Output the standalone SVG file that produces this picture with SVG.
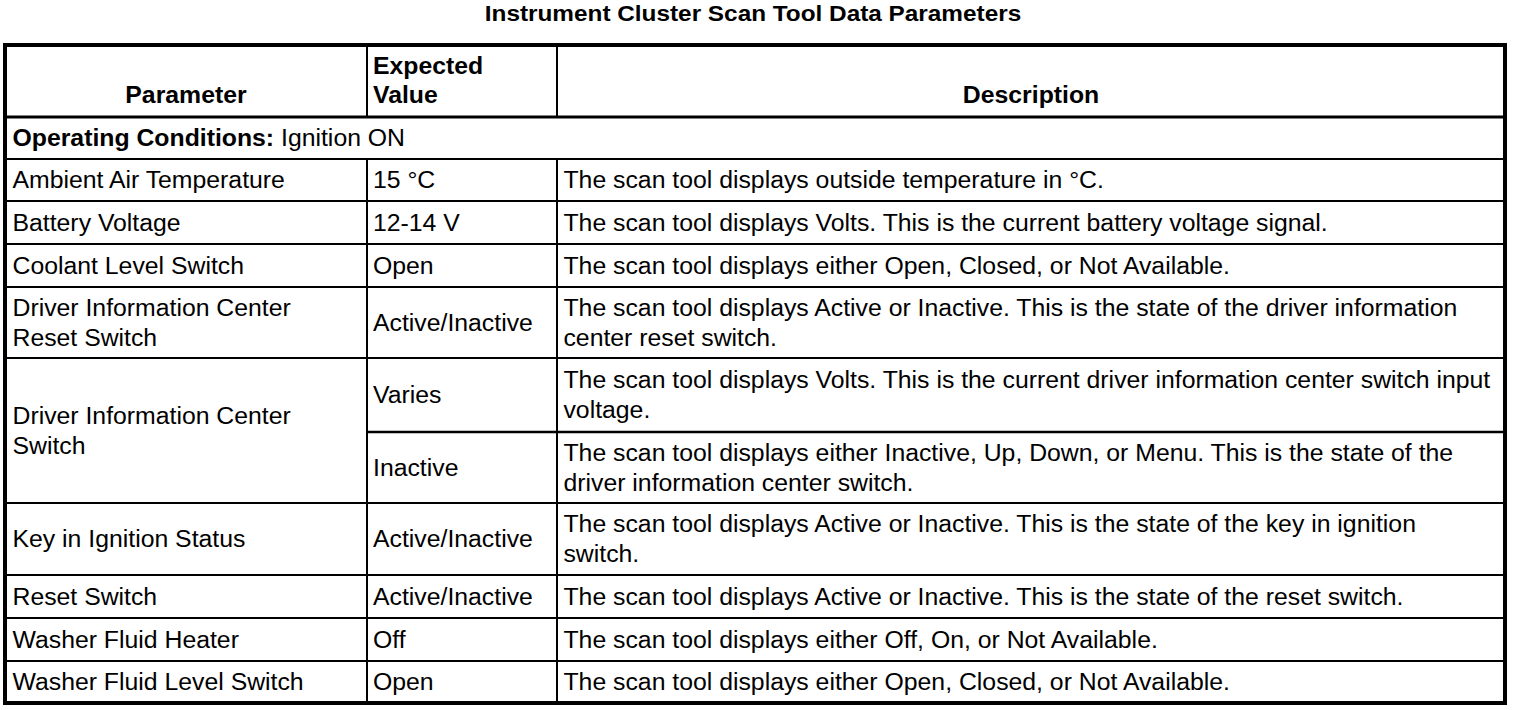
<svg xmlns="http://www.w3.org/2000/svg" width="1520" height="710" viewBox="0 0 1520 710">
<style>
  text { font-family: "Liberation Sans", Arial, Helvetica, sans-serif; font-size: 23.7px; fill: #000; }
  .b { font-weight: bold; }
  .m { text-anchor: middle; }
  .t { font-size: 22px; }
  .grid line { stroke: #000; stroke-width: 2; }
  .grid .thick { stroke-width: 3; }
  .grid .mid { stroke-width: 2.5; }
  .frame { fill: #fff; stroke: #000; stroke-width: 4; }
</style>
<rect x="0" y="0" width="1520" height="710" fill="#fff"/>
<g id="title" transform="scale(1.107 1)">
  <text class="b m t" x="680.2" y="21.5">Instrument Cluster Scan Tool Data Parameters</text>
</g>
<g id="table-grid" class="grid">
  <rect class="frame" x="5" y="45" width="1500" height="658"/>
  <line class="thick" x1="5" y1="117" x2="1505" y2="117"/>
  <line x1="5" y1="159" x2="1505" y2="159"/>
  <line x1="5" y1="201" x2="1505" y2="201"/>
  <line x1="5" y1="244" x2="1505" y2="244"/>
  <line x1="5" y1="287" x2="1505" y2="287"/>
  <line x1="5" y1="358" x2="1505" y2="358"/>
  <line class="mid" x1="367" y1="432" x2="1505" y2="432"/>
  <line x1="5" y1="503" x2="1505" y2="503"/>
  <line x1="5" y1="575" x2="1505" y2="575"/>
  <line x1="5" y1="618" x2="1505" y2="618"/>
  <line x1="5" y1="661" x2="1505" y2="661"/>
  <line x1="367" y1="45" x2="367" y2="117"/>
  <line x1="557" y1="45" x2="557" y2="117"/>
  <line x1="367" y1="159" x2="367" y2="703"/>
  <line x1="557" y1="159" x2="557" y2="703"/>
</g>
<g id="header" transform="scale(1.046 1)">
  <text class="b m" x="177.8" y="103.5">Parameter</text>
  <text class="b" x="356.6" y="74.5">Expected</text>
  <text class="b" x="356.6" y="103.5">Value</text>
  <text class="b m" x="985.7" y="103.5">Description</text>
</g>
<g id="row-operating-conditions" transform="scale(1.046 1)">
  <text x="11.95" y="146.5"><tspan class="b">Operating Conditions:</tspan> Ignition ON</text>
</g>
<g id="row-ambient-air-temperature" transform="scale(1.046 1)">
  <text x="11.95" y="188.5">Ambient Air Temperature</text>
  <text x="356.6" y="188.5">15 °C</text>
  <text x="538.7" y="188.5">The scan tool displays outside temperature in °C.</text>
</g>
<g id="row-battery-voltage" transform="scale(1.046 1)">
  <text x="11.95" y="231">Battery Voltage</text>
  <text x="356.6" y="231">12-14 V</text>
  <text x="538.7" y="231">The scan tool displays Volts. This is the current battery voltage signal.</text>
</g>
<g id="row-coolant-level-switch" transform="scale(1.046 1)">
  <text x="11.95" y="274">Coolant Level Switch</text>
  <text x="356.6" y="274">Open</text>
  <text x="538.7" y="274">The scan tool displays either Open, Closed, or Not Available.</text>
</g>
<g id="row-dic-reset-switch" transform="scale(1.046 1)">
  <text x="11.95" y="316">Driver Information Center</text>
  <text x="11.95" y="346">Reset Switch</text>
  <text x="356.6" y="331">Active/Inactive</text>
  <text x="538.7" y="316">The scan tool displays Active or Inactive. This is the state of the driver information</text>
  <text x="538.7" y="346">center reset switch.</text>
</g>
<g id="row-dic-switch" transform="scale(1.046 1)">
  <text x="11.95" y="424">Driver Information Center</text>
  <text x="11.95" y="454">Switch</text>
  <text x="356.6" y="403.5">Varies</text>
  <text x="538.7" y="388.5">The scan tool displays Volts. This is the current driver information center switch input</text>
  <text x="538.7" y="418.5">voltage.</text>
  <text x="356.6" y="476">Inactive</text>
  <text x="538.7" y="461">The scan tool displays either Inactive, Up, Down, or Menu. This is the state of the</text>
  <text x="538.7" y="491">driver information center switch.</text>
</g>
<g id="row-key-in-ignition-status" transform="scale(1.046 1)">
  <text x="11.95" y="547.5">Key in Ignition Status</text>
  <text x="356.6" y="547.5">Active/Inactive</text>
  <text x="538.7" y="532.5">The scan tool displays Active or Inactive. This is the state of the key in ignition</text>
  <text x="538.7" y="562.5">switch.</text>
</g>
<g id="row-reset-switch" transform="scale(1.046 1)">
  <text x="11.95" y="605">Reset Switch</text>
  <text x="356.6" y="605">Active/Inactive</text>
  <text x="538.7" y="605">The scan tool displays Active or Inactive. This is the state of the reset switch.</text>
</g>
<g id="row-washer-fluid-heater" transform="scale(1.046 1)">
  <text x="11.95" y="648">Washer Fluid Heater</text>
  <text x="356.6" y="648">Off</text>
  <text x="538.7" y="648">The scan tool displays either Off, On, or Not Available.</text>
</g>
<g id="row-washer-fluid-level-switch" transform="scale(1.046 1)">
  <text x="11.95" y="690.5">Washer Fluid Level Switch</text>
  <text x="356.6" y="690.5">Open</text>
  <text x="538.7" y="690.5">The scan tool displays either Open, Closed, or Not Available.</text>
</g>
</svg>
